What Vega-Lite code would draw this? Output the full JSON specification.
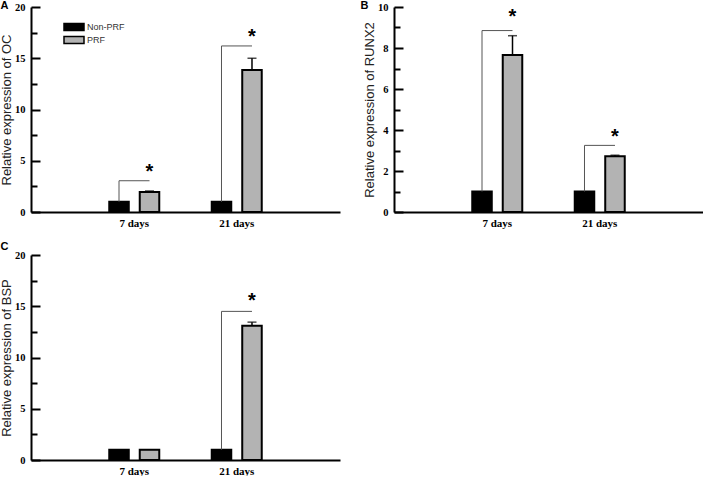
{
  "$schema": "https://vega.github.io/schema/vega-lite/v6.json",
  "padding": {"left": 0, "top": 0, "right": 0, "bottom": 0},
  "background": "white",
  "datasets": {
    "bars": [
      {"panel": "A", "day": "7 days", "group": "Non-PRF", "value": 1.0},
      {"panel": "A", "day": "7 days", "group": "PRF", "value": 1.95, "upper": 2.05},
      {"panel": "A", "day": "21 days", "group": "Non-PRF", "value": 1.0},
      {"panel": "A", "day": "21 days", "group": "PRF", "value": 13.85, "upper": 15.0},
      {"panel": "B", "day": "7 days", "group": "Non-PRF", "value": 1.0},
      {"panel": "B", "day": "7 days", "group": "PRF", "value": 7.66, "upper": 8.6},
      {"panel": "B", "day": "21 days", "group": "Non-PRF", "value": 1.0},
      {"panel": "B", "day": "21 days", "group": "PRF", "value": 2.72, "upper": 2.77},
      {"panel": "C", "day": "7 days", "group": "Non-PRF", "value": 1.0},
      {"panel": "C", "day": "7 days", "group": "PRF", "value": 1.0},
      {"panel": "C", "day": "21 days", "group": "Non-PRF", "value": 1.0},
      {"panel": "C", "day": "21 days", "group": "PRF", "value": 13.1, "upper": 13.45}
    ],
    "brackets": [
      {"panel": "A", "day": "7 days", "group": "Non-PRF", "y": 1.0, "order": 1},
      {"panel": "A", "day": "7 days", "group": "Non-PRF", "y": 3.05, "order": 2},
      {"panel": "A", "day": "7 days", "group": "PRF", "y": 3.05, "order": 3},
      {"panel": "A", "day": "21 days", "group": "Non-PRF", "y": 1.0, "order": 1},
      {"panel": "A", "day": "21 days", "group": "Non-PRF", "y": 16.2, "order": 2},
      {"panel": "A", "day": "21 days", "group": "PRF", "y": 16.2, "order": 3},
      {"panel": "B", "day": "7 days", "group": "Non-PRF", "y": 1.0, "order": 1},
      {"panel": "B", "day": "7 days", "group": "Non-PRF", "y": 8.85, "order": 2},
      {"panel": "B", "day": "7 days", "group": "PRF", "y": 8.85, "order": 3},
      {"panel": "B", "day": "21 days", "group": "Non-PRF", "y": 1.0, "order": 1},
      {"panel": "B", "day": "21 days", "group": "Non-PRF", "y": 3.25, "order": 2},
      {"panel": "B", "day": "21 days", "group": "PRF", "y": 3.25, "order": 3},
      {"panel": "C", "day": "21 days", "group": "Non-PRF", "y": 1.0, "order": 1},
      {"panel": "C", "day": "21 days", "group": "Non-PRF", "y": 14.5, "order": 2},
      {"panel": "C", "day": "21 days", "group": "PRF", "y": 14.5, "order": 3}
    ],
    "stars": [
      {"panel": "A", "day": "7 days", "group": "PRF", "y": 4.2},
      {"panel": "A", "day": "21 days", "group": "PRF", "y": 17.4},
      {"panel": "B", "day": "7 days", "group": "PRF", "y": 9.65},
      {"panel": "B", "day": "21 days", "group": "PRF", "y": 3.8},
      {"panel": "C", "day": "21 days", "group": "PRF", "y": 15.8}
    ]
  },
  "columns": 2,
  "spacing": {"column": 20, "row": 13},
  "concat": [
    {
      "width": 309, "height": 205,
      "title": {"text": "A", "anchor": "start", "frame": "bounds", "offset": -9, "font": "Liberation Sans", "fontSize": 11, "fontWeight": "bold", "color": "black"},
      "resolve": {"axis": {"y": "independent"}},
      "layer": [
        {
          "data": {"name": "bars"},
          "transform": [{"filter": "datum.panel === 'A'"}],
          "mark": {"type": "bar", "stroke": "black", "strokeWidth": 2},
          "encoding": {
            "x": {"field": "day", "type": "nominal", "sort": ["7 days", "21 days"], "scale": {"paddingInner": 0.405, "paddingOuter": 0.71},
                  "axis": {"title": null, "ticks": false, "labelAngle": 0, "labelFont": "Liberation Serif", "labelFontWeight": "bold", "labelFontSize": 11, "labelPadding": 5}},
            "xOffset": {"field": "group", "sort": ["Non-PRF", "PRF"], "scale": {"paddingInner": 0.36, "paddingOuter": 0.18}},
            "y": {"field": "value", "type": "quantitative", "scale": {"domain": [0, 20]},
                  "axis": {"orient": "left", "title": "Relative expression of OC", "values": [0, 5, 10, 15, 20], "ticks": false}},
            "color": {"field": "group", "type": "nominal", "scale": {"domain": ["Non-PRF", "PRF"], "range": ["#000000", "#b3b3b3"]},
                      "legend": {"orient": "none", "legendX": 37, "legendY": 14, "title": null}}
          }
        },
        {
          "data": {"name": "bars"},
          "transform": [{"filter": "datum.panel === 'A' && isValid(datum.upper)"}],
          "mark": {"type": "rule", "color": "black", "strokeWidth": 1.5},
          "encoding": {
            "x": {"field": "day", "type": "nominal", "sort": ["7 days", "21 days"]},
            "xOffset": {"field": "group", "sort": ["Non-PRF", "PRF"]},
            "y": {"field": "value", "type": "quantitative",
                  "axis": {"orient": "left", "offset": -9, "domain": true, "domainOpacity": 0, "labels": false, "title": null, "values": [0, 5, 10, 15, 20], "ticks": true, "tickSize": 9, "tickColor": "black", "tickWidth": 2}},
            "y2": {"field": "upper"}
          }
        },
        {
          "data": {"name": "bars"},
          "transform": [{"filter": "datum.panel === 'A' && isValid(datum.upper)"}],
          "mark": {"type": "tick", "color": "black", "size": 9, "thickness": 1.5, "orient": "horizontal"},
          "encoding": {
            "x": {"field": "day", "type": "nominal", "sort": ["7 days", "21 days"]},
            "xOffset": {"field": "group", "sort": ["Non-PRF", "PRF"]},
            "y": {"field": "upper", "type": "quantitative",
                  "axis": {"orient": "left", "offset": -6, "domain": true, "domainOpacity": 0, "labels": false, "title": null, "values": [2.5, 7.5, 12.5, 17.5], "ticks": true, "tickSize": 6, "tickColor": "black", "tickWidth": 2}}
          }
        },
        {
          "data": {"name": "brackets"},
          "transform": [{"filter": "datum.panel === 'A'"}],
          "mark": {"type": "line", "color": "#555555", "strokeWidth": 1},
          "encoding": {
            "x": {"field": "day", "type": "nominal", "sort": ["7 days", "21 days"]},
            "xOffset": {"field": "group", "sort": ["Non-PRF", "PRF"]},
            "y": {"field": "y", "type": "quantitative", "axis": null},
            "detail": {"field": "day"},
            "order": {"field": "order"}
          }
        },
        {
          "data": {"name": "stars"},
          "transform": [{"filter": "datum.panel === 'A'"}],
          "mark": {"type": "text", "text": "*", "font": "Liberation Sans", "fontWeight": "bold", "fontSize": 20, "baseline": "middle", "dy": 3, "color": "black"},
          "encoding": {
            "x": {"field": "day", "type": "nominal", "sort": ["7 days", "21 days"]},
            "xOffset": {"field": "group", "sort": ["Non-PRF", "PRF"]},
            "y": {"field": "y", "type": "quantitative", "axis": null}
          }
        }
      ]
    },
    {
      "width": 309, "height": 205,
      "title": {"text": "B", "anchor": "start", "frame": "bounds", "offset": -9, "dx": -3, "font": "Liberation Sans", "fontSize": 11, "fontWeight": "bold", "color": "black"},
      "resolve": {"axis": {"y": "independent"}},
      "layer": [
        {
          "data": {"name": "bars"},
          "transform": [{"filter": "datum.panel === 'B'"}],
          "mark": {"type": "bar", "stroke": "black", "strokeWidth": 2},
          "encoding": {
            "x": {"field": "day", "type": "nominal", "sort": ["7 days", "21 days"], "scale": {"paddingInner": 0.405, "paddingOuter": 0.71},
                  "axis": {"title": null, "ticks": false, "labelAngle": 0, "labelFont": "Liberation Serif", "labelFontWeight": "bold", "labelFontSize": 11, "labelPadding": 5}},
            "xOffset": {"field": "group", "sort": ["Non-PRF", "PRF"], "scale": {"paddingInner": 0.36, "paddingOuter": 0.18}},
            "y": {"field": "value", "type": "quantitative", "scale": {"domain": [0, 10]},
                  "axis": {"orient": "left", "title": "Relative expression of RUNX2", "values": [0, 2, 4, 6, 8, 10], "ticks": false}},
            "color": {"field": "group", "type": "nominal", "scale": {"domain": ["Non-PRF", "PRF"], "range": ["#000000", "#b3b3b3"]},
                      "legend": {"orient": "none", "legendX": 37, "legendY": 13, "title": null}}
          }
        },
        {
          "data": {"name": "bars"},
          "transform": [{"filter": "datum.panel === 'B' && isValid(datum.upper)"}],
          "mark": {"type": "rule", "color": "black", "strokeWidth": 1.5},
          "encoding": {
            "x": {"field": "day", "type": "nominal", "sort": ["7 days", "21 days"]},
            "xOffset": {"field": "group", "sort": ["Non-PRF", "PRF"]},
            "y": {"field": "value", "type": "quantitative",
                  "axis": {"orient": "left", "offset": -9, "domain": true, "domainOpacity": 0, "labels": false, "title": null, "values": [0, 2, 4, 6, 8, 10], "ticks": true, "tickSize": 9, "tickColor": "black", "tickWidth": 2}},
            "y2": {"field": "upper"}
          }
        },
        {
          "data": {"name": "bars"},
          "transform": [{"filter": "datum.panel === 'B' && isValid(datum.upper)"}],
          "mark": {"type": "tick", "color": "black", "size": 9, "thickness": 1.5, "orient": "horizontal"},
          "encoding": {
            "x": {"field": "day", "type": "nominal", "sort": ["7 days", "21 days"]},
            "xOffset": {"field": "group", "sort": ["Non-PRF", "PRF"]},
            "y": {"field": "upper", "type": "quantitative",
                  "axis": {"orient": "left", "offset": -6, "domain": true, "domainOpacity": 0, "labels": false, "title": null, "values": [1, 3, 5, 7, 9], "ticks": true, "tickSize": 6, "tickColor": "black", "tickWidth": 2}}
          }
        },
        {
          "data": {"name": "brackets"},
          "transform": [{"filter": "datum.panel === 'B'"}],
          "mark": {"type": "line", "color": "#555555", "strokeWidth": 1},
          "encoding": {
            "x": {"field": "day", "type": "nominal", "sort": ["7 days", "21 days"]},
            "xOffset": {"field": "group", "sort": ["Non-PRF", "PRF"]},
            "y": {"field": "y", "type": "quantitative", "axis": null},
            "detail": {"field": "day"},
            "order": {"field": "order"}
          }
        },
        {
          "data": {"name": "stars"},
          "transform": [{"filter": "datum.panel === 'B'"}],
          "mark": {"type": "text", "text": "*", "font": "Liberation Sans", "fontWeight": "bold", "fontSize": 20, "baseline": "middle", "dy": 3, "color": "black"},
          "encoding": {
            "x": {"field": "day", "type": "nominal", "sort": ["7 days", "21 days"]},
            "xOffset": {"field": "group", "sort": ["Non-PRF", "PRF"]},
            "y": {"field": "y", "type": "quantitative", "axis": null}
          }
        }
      ]
    },
    {
      "width": 309, "height": 205,
      "title": {"text": "C", "anchor": "start", "frame": "bounds", "offset": -2, "font": "Liberation Sans", "fontSize": 11, "fontWeight": "bold", "color": "black"},
      "resolve": {"axis": {"y": "independent"}},
      "layer": [
        {
          "data": {"name": "bars"},
          "transform": [{"filter": "datum.panel === 'C'"}],
          "mark": {"type": "bar", "stroke": "black", "strokeWidth": 2},
          "encoding": {
            "x": {"field": "day", "type": "nominal", "sort": ["7 days", "21 days"], "scale": {"paddingInner": 0.405, "paddingOuter": 0.71},
                  "axis": {"title": null, "ticks": false, "labelAngle": 0, "labelFont": "Liberation Serif", "labelFontWeight": "bold", "labelFontSize": 11, "labelPadding": 5}},
            "xOffset": {"field": "group", "sort": ["Non-PRF", "PRF"], "scale": {"paddingInner": 0.36, "paddingOuter": 0.18}},
            "y": {"field": "value", "type": "quantitative", "scale": {"domain": [0, 20]},
                  "axis": {"orient": "left", "title": "Relative expression of BSP", "values": [0, 5, 10, 15, 20], "ticks": false}},
            "color": {"field": "group", "type": "nominal", "scale": {"domain": ["Non-PRF", "PRF"], "range": ["#000000", "#b3b3b3"]},
                      "legend": {"orient": "none", "legendX": 37, "legendY": 13, "title": null}}
          }
        },
        {
          "data": {"name": "bars"},
          "transform": [{"filter": "datum.panel === 'C' && isValid(datum.upper)"}],
          "mark": {"type": "rule", "color": "black", "strokeWidth": 1.5},
          "encoding": {
            "x": {"field": "day", "type": "nominal", "sort": ["7 days", "21 days"]},
            "xOffset": {"field": "group", "sort": ["Non-PRF", "PRF"]},
            "y": {"field": "value", "type": "quantitative",
                  "axis": {"orient": "left", "offset": -9, "domain": true, "domainOpacity": 0, "labels": false, "title": null, "values": [0, 5, 10, 15, 20], "ticks": true, "tickSize": 9, "tickColor": "black", "tickWidth": 2}},
            "y2": {"field": "upper"}
          }
        },
        {
          "data": {"name": "bars"},
          "transform": [{"filter": "datum.panel === 'C' && isValid(datum.upper)"}],
          "mark": {"type": "tick", "color": "black", "size": 9, "thickness": 1.5, "orient": "horizontal"},
          "encoding": {
            "x": {"field": "day", "type": "nominal", "sort": ["7 days", "21 days"]},
            "xOffset": {"field": "group", "sort": ["Non-PRF", "PRF"]},
            "y": {"field": "upper", "type": "quantitative",
                  "axis": {"orient": "left", "offset": -6, "domain": true, "domainOpacity": 0, "labels": false, "title": null, "values": [2.5, 7.5, 12.5, 17.5], "ticks": true, "tickSize": 6, "tickColor": "black", "tickWidth": 2}}
          }
        },
        {
          "data": {"name": "brackets"},
          "transform": [{"filter": "datum.panel === 'C'"}],
          "mark": {"type": "line", "color": "#555555", "strokeWidth": 1},
          "encoding": {
            "x": {"field": "day", "type": "nominal", "sort": ["7 days", "21 days"]},
            "xOffset": {"field": "group", "sort": ["Non-PRF", "PRF"]},
            "y": {"field": "y", "type": "quantitative", "axis": null},
            "detail": {"field": "day"},
            "order": {"field": "order"}
          }
        },
        {
          "data": {"name": "stars"},
          "transform": [{"filter": "datum.panel === 'C'"}],
          "mark": {"type": "text", "text": "*", "font": "Liberation Sans", "fontWeight": "bold", "fontSize": 20, "baseline": "middle", "dy": 3, "color": "black"},
          "encoding": {
            "x": {"field": "day", "type": "nominal", "sort": ["7 days", "21 days"]},
            "xOffset": {"field": "group", "sort": ["Non-PRF", "PRF"]},
            "y": {"field": "y", "type": "quantitative", "axis": null}
          }
        }
      ]
    }
  ],
  "config": {
    "view": {"stroke": null},
    "axis": {"domainColor": "black", "domainWidth": 2, "grid": false, "labelColor": "black", "titleColor": "#222222"},
    "axisY": {"labelFont": "Liberation Serif", "labelFontWeight": "bold", "labelFontSize": 10.5, "labelPadding": 6,
              "titleFont": "Liberation Sans", "titleFontSize": 13, "titleFontWeight": "normal", "titlePadding": 1},
    "legend": {"padding": 0, "symbolType": "M-2,-0.7H2V0.7H-2Z", "symbolSize": 100, "symbolStrokeColor": "black", "symbolStrokeWidth": 1.5,
               "labelFont": "Liberation Sans", "labelFontSize": 9, "labelColor": "#333333", "labelOffset": 7, "rowPadding": -4, "symbolOpacity": 1}
  }
}
